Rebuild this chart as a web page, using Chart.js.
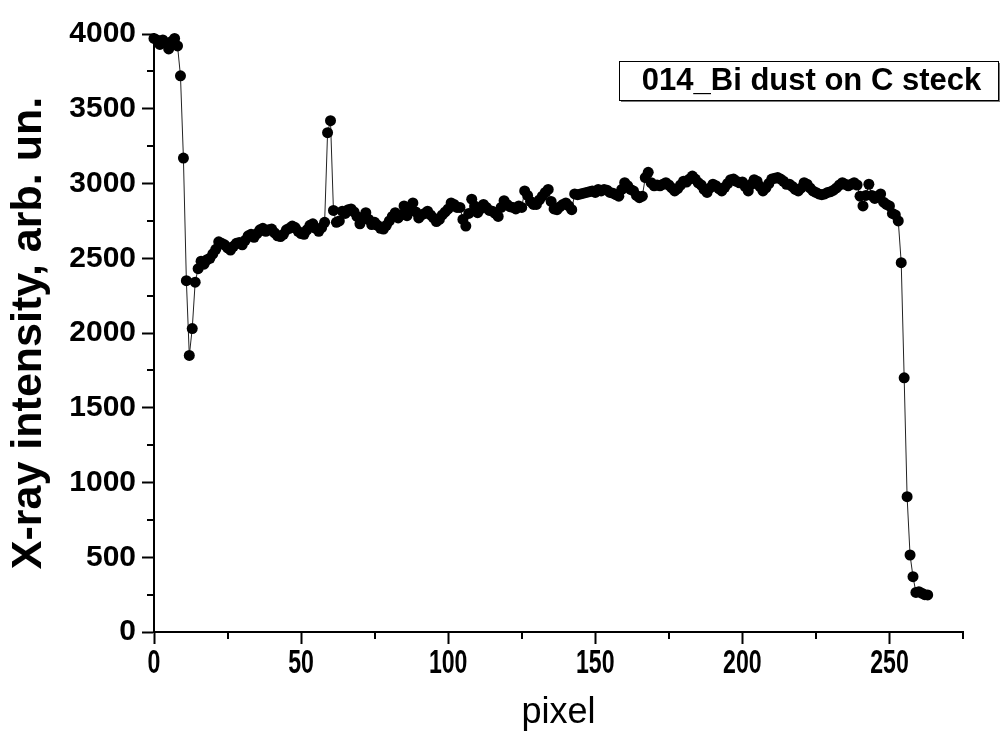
<!DOCTYPE html>
<html>
<head>
<meta charset="utf-8">
<script src="https://cdn.jsdelivr.net/npm/chart.js@4/dist/chart.umd.min.js"></script>
<style>
	body { margin: 0; background: #fff; }
	#profile { display: block; }
</style>
</head>
<body>
<canvas id="profile" width="1004" height="743"></canvas>
<script>
// line profile, one value per detector pixel
var seriesLabel = '014_Bi dust on C steck';
var intensity = [
	3970, 3960, 3930, 3960, 3940, 3900, 3950, 3970, 3920, 3720,
	3170, 2350, 1850, 2030, 2340, 2430, 2480, 2460, 2490, 2500,
	2530, 2560, 2610, 2600, 2590, 2570, 2555, 2580, 2600, 2605,
	2590, 2620, 2650, 2660, 2640, 2665, 2690, 2700, 2680, 2690,
	2695, 2670, 2650, 2645, 2660, 2690, 2700, 2715, 2705, 2680,
	2665, 2660, 2690, 2720, 2730, 2700, 2680, 2705, 2740, 3340,
	3420, 2820, 2740, 2750, 2815, 2800, 2825, 2830, 2810, 2780,
	2730, 2760, 2805, 2760, 2725, 2740, 2720, 2700, 2695, 2720,
	2750, 2780, 2805, 2770, 2790, 2850, 2785, 2830, 2870, 2810,
	2770, 2790, 2800, 2815, 2790, 2770, 2745, 2760, 2790, 2810,
	2830, 2870, 2860, 2840, 2840, 2760, 2715, 2800, 2895, 2850,
	2805, 2830, 2860, 2840, 2820, 2815, 2800, 2780, 2840, 2885,
	2860, 2845, 2840, 2830, 2850, 2840, 2950, 2920, 2880, 2860,
	2860, 2890, 2915, 2940, 2960, 2880, 2830, 2825, 2845, 2860,
	2870, 2850, 2825, 2930, 2925, 2930, 2935, 2940, 2945, 2950,
	2940, 2960, 2950, 2960, 2955, 2940, 2935, 2925, 2915, 2960,
	3005, 2985, 2960, 2950, 2920, 2905, 2915, 3040, 3075, 3005,
	2985, 2990, 2985, 2995, 3005, 2990, 2970, 2950, 2965, 2990,
	3015, 3010, 3030, 3050, 3030, 3005, 2990, 2960, 2940, 2970,
	2995, 2985, 2965, 2950, 2975, 3000, 3025, 3030, 3015, 3005,
	3010, 2980, 2950, 2995, 3025, 3015, 2980, 2950, 2970, 3000,
	3030, 3035, 3040, 3030, 3015, 2995, 2995, 2980, 2960, 2950,
	2970, 3005, 2995, 2970, 2950, 2940, 2930, 2925, 2930, 2940,
	2945, 2955, 2970, 2990, 3005, 2995, 2985, 2995, 3005, 2990,
	2915, 2850, 2920, 2995, 2920, 2900, 2915, 2930, 2875, 2860,
	2850, 2800, 2790, 2750, 2470, 1700, 905, 515, 370, 265,
	270, 260, 250, 248
];
var xMinorTicks = [25, 75, 125, 175, 225, 275];
var yMinorTicks = [250, 750, 1250, 1750, 2250, 2750, 3250, 3750];

var points = intensity.map(function (v, i) { return { x: i, y: v }; });

// minor ticks, narrow x tick labels and the boxed series label
var decorations = {
	id: 'decorations',
	afterDraw: function (chart) {
		var ctx = chart.ctx;
		var xs = chart.scales.x;
		var ys = chart.scales.y;
		ctx.save();
		ctx.strokeStyle = '#000';
		ctx.lineWidth = 2;
		ctx.beginPath();
		xMinorTicks.forEach(function (v) {
			var px = Math.round(xs.getPixelForValue(v));
			ctx.moveTo(px, xs.top);
			ctx.lineTo(px, xs.top + 7);
		});
		yMinorTicks.forEach(function (v) {
			var py = Math.round(ys.getPixelForValue(v));
			ctx.moveTo(ys.right, py);
			ctx.lineTo(ys.right - 7, py);
		});
		ctx.stroke();

		// x labels squeezed sideways
		ctx.fillStyle = '#000';
		ctx.font = 'bold 33px "Liberation Sans", Arial, sans-serif';
		ctx.textAlign = 'center';
		ctx.textBaseline = 'middle';
		xs.ticks.forEach(function (t) {
			var px = xs.getPixelForValue(t.value);
			ctx.save();
			ctx.translate(px, xs.top + 32);
			ctx.scale(0.7, 1);
			ctx.fillText(String(t.value), 0, 0);
			ctx.restore();
		});

		// label box with a grey drop edge
		var bx = 619, by = 61, bw = 379, bh = 39;
		ctx.fillStyle = '#fff';
		ctx.fillRect(bx, by, bw, bh);
		ctx.fillStyle = '#777';
		ctx.fillRect(bx + 2, by + bh, bw, 2);
		ctx.fillRect(bx + bw, by + 2, 2, bh);
		ctx.strokeStyle = '#000';
		ctx.lineWidth = 1;
		ctx.strokeRect(bx + 0.5, by + 0.5, bw, bh);
		ctx.fillStyle = '#000';
		ctx.font = 'bold 31px "Liberation Sans", Arial, sans-serif';
		ctx.fillText(chart.data.datasets[0].label, bx + bw / 2 + 3, by + bh / 2 + 1);
		ctx.restore();
	}
};

var profileChart = new Chart(document.getElementById('profile'), {
	type: 'line',
	data: {
		datasets: [{
			label: seriesLabel,
			data: points,
			borderColor: '#222',
			borderWidth: 1,
			pointRadius: 5.5,
			pointBackgroundColor: '#000',
			pointBorderWidth: 0,
			pointHoverRadius: 5.5,
			tension: 0,
			clip: false
		}]
	},
	options: {
		responsive: false,
		animation: false,
		devicePixelRatio: 1,
		layout: { padding: { top: 34, right: 41, bottom: 0, left: 0 } },
		plugins: {
			legend: { display: false },
			tooltip: { enabled: false }
		},
		scales: {
			x: {
				type: 'linear',
				min: 0,
				max: 275,
				afterFit: function (scale) { scale.height = 111; },
				border: { display: true, color: '#000', width: 2 },
				grid: { drawOnChartArea: false, drawTicks: true, tickLength: 12, tickColor: '#000', tickWidth: 2 },
				ticks: {
					stepSize: 50,
					includeBounds: false,
					maxRotation: 0,
					padding: 2,
					color: 'rgba(0,0,0,0)',
					font: { family: '"Liberation Sans", Arial', size: 32, weight: 'bold' }
				},
				title: {
					display: true,
					text: 'pixel',
					color: '#000',
					padding: { top: 0, bottom: 8 },
					font: { family: '"Liberation Sans", Arial', size: 36, weight: 'normal' }
				}
			},
			y: {
				min: 0,
				max: 4000,
				afterFit: function (scale) { scale.width = 154; },
				border: { display: true, color: '#000', width: 2 },
				grid: { drawOnChartArea: false, drawTicks: true, tickLength: 12, tickColor: '#000', tickWidth: 2 },
				ticks: {
					stepSize: 500,
					padding: 6,
					color: '#000',
					callback: function (value) { return String(value); },
					font: { family: '"Liberation Sans", Arial', size: 30, weight: 'bold' }
				},
				title: {
					display: true,
					text: 'X-ray intensity, arb. un.',
					color: '#000',
					padding: { top: 3, bottom: 0 },
					font: { family: '"Liberation Sans", Arial', size: 43, weight: 'bold' }
				}
			}
		}
	},
	plugins: [decorations]
});

window.profileChart = profileChart;
</script>
</body>
</html>
